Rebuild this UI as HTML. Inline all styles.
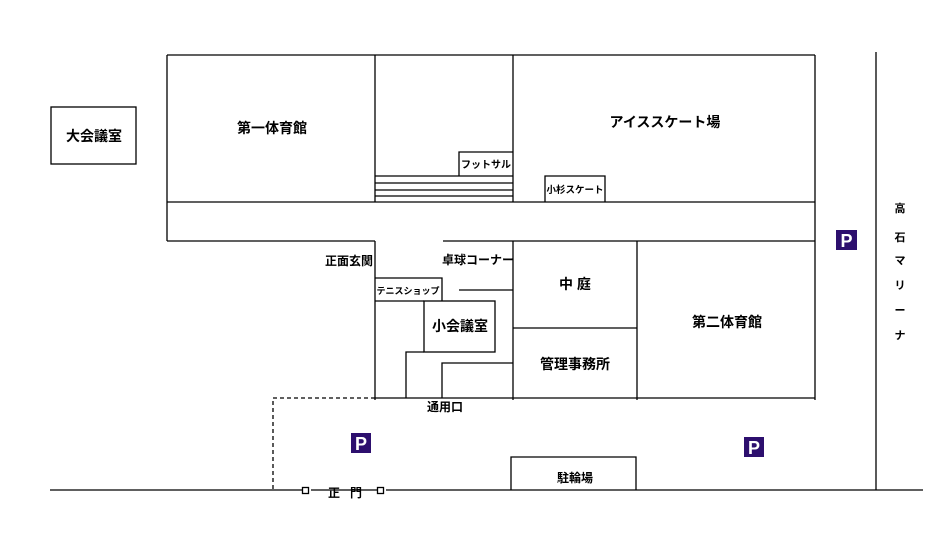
<!DOCTYPE html>
<html><head><meta charset="utf-8"><style>
html,body{margin:0;padding:0;background:#fff;}
svg{display:block;}
text{font-family:"Liberation Sans","Noto Sans CJK JP",sans-serif;fill:#000;}
</style></head><body>
<svg width="950" height="550" viewBox="0 0 950 550" xmlns="http://www.w3.org/2000/svg">
<g stroke="#000" stroke-width="1.3" fill="none">
<rect x="51" y="107" width="85" height="57"/>
<line x1="167" y1="55" x2="815" y2="55"/>
<line x1="167" y1="55" x2="167" y2="241"/>
<line x1="815" y1="55" x2="815" y2="400"/>
<line x1="167" y1="202" x2="815" y2="202"/>
<line x1="167" y1="241" x2="375" y2="241"/>
<line x1="443" y1="241" x2="815" y2="241"/>
<line x1="375" y1="55" x2="375" y2="202"/>
<line x1="513" y1="55" x2="513" y2="202"/>
<line x1="375" y1="241" x2="375" y2="400"/>
<line x1="513" y1="241" x2="513" y2="400"/>
<line x1="637" y1="241" x2="637" y2="400"/>
<line x1="375" y1="398" x2="815" y2="398"/>
<line x1="513" y1="328" x2="637" y2="328"/>
<line x1="375" y1="176" x2="513" y2="176"/>
<line x1="375" y1="183" x2="513" y2="183"/>
<line x1="375" y1="190" x2="513" y2="190"/>
<line x1="375" y1="196" x2="513" y2="196"/>
<polyline points="459,176 459,152 513,152"/>
<polyline points="545,202 545,176 605,176 605,202"/>
<polyline points="375,278 442,278 442,301"/>
<line x1="375" y1="301" x2="424" y2="301"/>
<line x1="459" y1="290" x2="513" y2="290"/>
<rect x="424" y="301" width="71" height="51"/>
<polyline points="424,352 406,352 406,398"/>
<polyline points="513,363 442,363 442,398"/>
<polyline points="375,398 273,398 273,490" stroke-dasharray="4,3"/>
<line x1="50" y1="490" x2="302" y2="490"/>
<line x1="311" y1="490" x2="377" y2="490"/>
<line x1="386" y1="490" x2="923" y2="490"/>
<rect x="302.5" y="487.5" width="6" height="6" fill="#fff"/>
<rect x="377.5" y="487.5" width="6" height="6" fill="#fff"/>
<polyline points="511,490 511,457 636,457 636,490"/>
<line x1="876" y1="52" x2="876" y2="490"/>
</g>
<g>
<rect x="836" y="230" width="21" height="20" fill="#2d0f6e"/>
<text x="846.5" y="247" font-size="18" font-weight="bold" style="fill:#fff" text-anchor="middle">P</text>
<rect x="351" y="433" width="20" height="20" fill="#2d0f6e"/>
<text x="361" y="450" font-size="18" font-weight="bold" style="fill:#fff" text-anchor="middle">P</text>
<rect x="744" y="437" width="20" height="20" fill="#2d0f6e"/>
<text x="754" y="454" font-size="18" font-weight="bold" style="fill:#fff" text-anchor="middle">P</text>
</g>
<g font-size="14" text-anchor="middle" font-weight="bold">
<text x="94" y="141">大会議室</text>
<text x="272" y="133">第一体育館</text>
<text x="665" y="127">アイススケート場</text>
<text x="575" y="289">中 庭</text>
<text x="727" y="327">第二体育館</text>
<text x="460" y="331">小会議室</text>
<text x="575" y="369">管理事務所</text>
</g>
<g text-anchor="middle" font-weight="bold">
<text x="486" y="168" font-size="10">フットサル</text>
<text x="575" y="193" font-size="9.5">小杉スケート</text>
<text x="408" y="294" font-size="9">テニスショップ</text>
</g>
<g font-size="12" text-anchor="middle" font-weight="bold">
<text x="349" y="265">正面玄関</text>
<text x="478" y="264">卓球コーナー</text>
<text x="445" y="411">通用口</text>
<text x="575" y="482">駐輪場</text>
<text x="334" y="497">正</text>
<text x="356" y="497">門</text>
</g>
<g font-size="11" text-anchor="middle" font-weight="bold">
<text x="900" y="212">高</text>
<text x="900" y="241">石</text>
<text x="900" y="264">マ</text>
<text x="900" y="289">リ</text>
<text x="900" y="314">ー</text>
<text x="900" y="339">ナ</text>
</g>
</svg>
</body></html>
